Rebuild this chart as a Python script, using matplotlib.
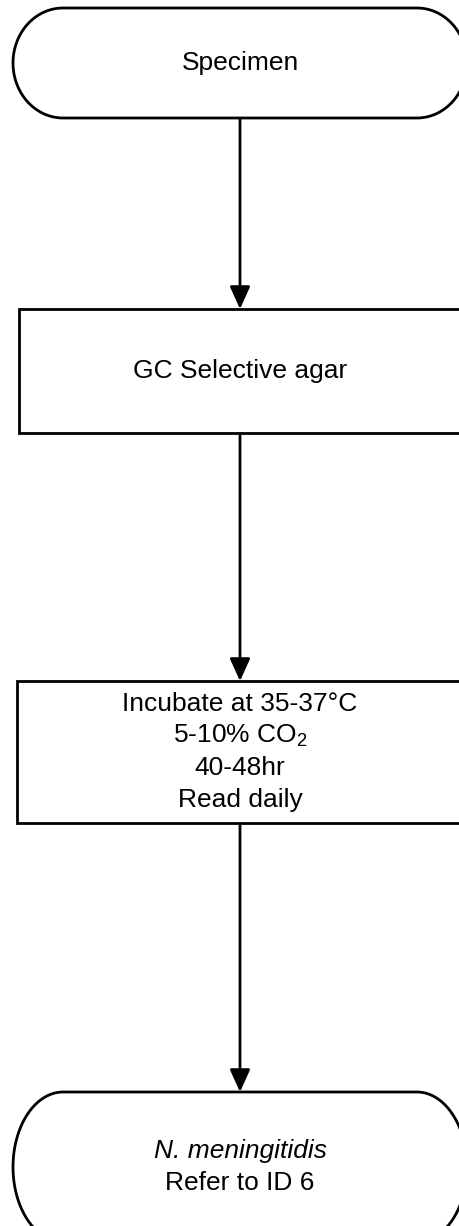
import numpy as np
import matplotlib
matplotlib.use("Agg")
import matplotlib.pyplot as plt
from matplotlib.patches import Rectangle, PathPatch, FancyArrowPatch
from matplotlib.path import Path

plt.rcParams['font.family'] = ['Liberation Sans', 'DejaVu Sans']
plt.rcParams['mathtext.fontset'] = 'custom'
plt.rcParams['mathtext.rm'] = 'Liberation Sans'
plt.rcParams['mathtext.it'] = 'Liberation Sans:italic'

# Flowchart content
node_kinds = ["terminal", "process", "process", "terminal"]
node_texts = [
    ["Specimen"],
    ["GC Selective agar"],
    ["Incubate at 35-37°C", "5-10% CO$_2$", "40-48hr", "Read daily"],
    ["N. meningitidis", "Refer to ID 6"],
]
node_italic = [[False], [False], [False, False, False, False], [True, False]]

# layout (pixel coordinates, y downward)
cx = 240
boxes = [  # (left, top, right, bottom)
    (13, 8, 467, 118),
    (19, 309, 461, 433),
    (17, 681, 463, 823),
    (13, 1092, 467, 1242),
]
W, H = 459, 1226
fig = plt.figure(figsize=(W / 100, H / 100), dpi=100)
ax = fig.add_axes([0, 0, 1, 1])
ax.set_xlim(0, W)
ax.set_ylim(H, 0)
ax.axis('off')

lw = 2.0
fs = 19
line_gap = 32


def terminal_path(l, t, r, b, rx):
    ry = (b - t) / 2
    cy = (t + b) / 2
    pts = []
    th = np.linspace(-np.pi / 2, np.pi / 2, 60)
    for a in th:
        pts.append((r - rx + rx * np.cos(a), cy + ry * np.sin(a)))
    th2 = np.linspace(np.pi / 2, 3 * np.pi / 2, 60)
    for a in th2:
        pts.append((l + rx + rx * np.cos(a), cy + ry * np.sin(a)))
    pts.append(pts[0])
    return Path(pts)


for kind, (l, t, r, b), lines, ital in zip(node_kinds, boxes, node_texts, node_italic):
    if kind == "terminal":
        p = PathPatch(terminal_path(l, t, r, b, 50), facecolor='white',
                      edgecolor='black', lw=lw, zorder=2)
        ax.add_patch(p)
    else:
        ax.add_patch(Rectangle((l, t), r - l, b - t, facecolor='white',
                               edgecolor='black', lw=lw, zorder=2))
    cy = (t + b) / 2
    n = len(lines)
    for i, (txt, it) in enumerate(zip(lines, ital)):
        y = cy + (i - (n - 1) / 2) * line_gap
        ax.text(cx, y, txt, ha='center', va='center', fontsize=fs,
                fontstyle='italic' if it else 'normal', zorder=3)

for (l1, t1, r1, b1), (l2, t2, r2, b2) in zip(boxes[:-1], boxes[1:]):
    ax.add_patch(FancyArrowPatch((cx, b1), (cx, t2),
                                 arrowstyle='-|>,head_length=1.37,head_width=0.62',
                                 mutation_scale=10, color='black', lw=lw,
                                 shrinkA=0, shrinkB=0, zorder=1))

fig.savefig("out.png", dpi=100)
